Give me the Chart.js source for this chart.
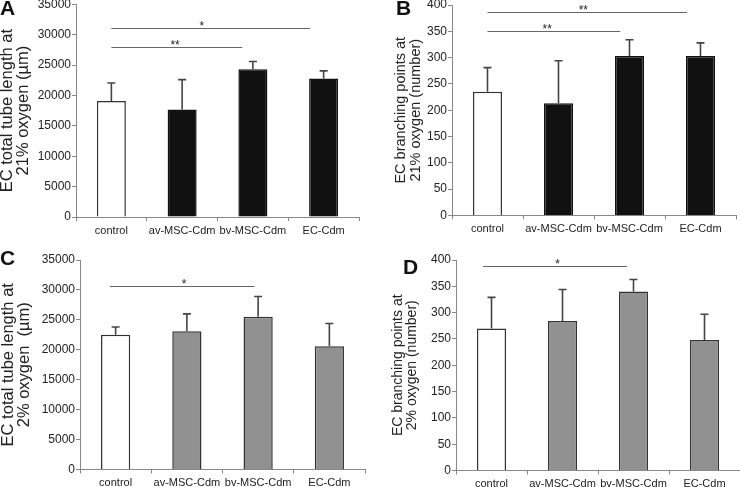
<!DOCTYPE html>
<html>
<head>
<meta charset="utf-8">
<script src="https://cdn.jsdelivr.net/npm/chart.js@4.4.1/dist/chart.umd.min.js"></script>
<style>
body { margin: 0; background: #fff; }
#wrap { position: relative; width: 740px; height: 487px; overflow: hidden; }
canvas { position: absolute; }
.lbl { position: absolute; font: bold 21px 'Liberation Sans', Arial, sans-serif; line-height: 21px; color: #111; }
</style>
</head>
<body>
<div id="wrap">
  <canvas id="panelA" width="370" height="245" style="left:0;top:0"></canvas>
  <canvas id="panelB" width="370" height="245" style="left:370px;top:0"></canvas>
  <canvas id="panelC" width="370" height="242" style="left:0;top:245px"></canvas>
  <canvas id="panelD" width="370" height="242" style="left:370px;top:245px"></canvas>
  <div class="lbl" style="left:0;top:-3px">A</div>
  <div class="lbl" style="left:396px;top:-3px">B</div>
  <div class="lbl" style="left:0;top:247px">C</div>
  <div class="lbl" style="left:403px;top:256px">D</div>
</div>
<script>
const categories = ['control', 'av-MSC-Cdm', 'bv-MSC-Cdm', 'EC-Cdm'];

// A: tube length, 21% oxygen
const lengthNormoxia = [19100, 17700, 24300, 22800];
const lengthNormoxiaSD = [2950, 4900, 1300, 1250];
// B: branching points, 21% oxygen
const branchNormoxia = [235, 213, 303, 303];
const branchNormoxiaSD = [46, 81, 31, 25];
// C: tube length, 2% oxygen
const lengthHypoxia = [22500, 23100, 25500, 20600];
const lengthHypoxiaSD = [1300, 2900, 3400, 3800];
// D: branching points, 2% oxygen
const branchHypoxia = [270, 284, 340, 248];
const branchHypoxiaSD = [59, 60, 23, 49];

const lengthTicks = { max: 35000, step: 5000 };
const branchTicks = { max: 400, step: 50 };

// significance: [label, level]
const sigA = [['*', 31150], ['**', 27900]];
const sigB = [['**', 387], ['**', 350]];
const sigC = [['*', 30600]];
const sigD = [['*', 388]];

Chart.defaults.font.family = "'Liberation Sans', Arial, sans-serif";
Chart.defaults.color = '#222';

const extras = {
    id: 'extras',
    afterDatasetsDraw(chart, args, opts) {
        const ctx = chart.ctx;
        const x = chart.scales.x;
        const y = chart.scales.y;
        const meta = chart.getDatasetMeta(0);
        ctx.save();
        // error bars (upper only)
        ctx.strokeStyle = '#444';
        ctx.lineWidth = 1.6;
        opts.means.forEach((m, i) => {
            const cx = meta.data[i].x;
            const y0 = y.getPixelForValue(m);
            const y1 = y.getPixelForValue(m + opts.sd[i]);
            ctx.beginPath();
            ctx.moveTo(cx, y0);
            ctx.lineTo(cx, y1);
            ctx.moveTo(cx - 4, y1);
            ctx.lineTo(cx + 4, y1);
            ctx.stroke();
        });
        // significance lines
        ctx.strokeStyle = '#666';
        ctx.lineWidth = 1;
        ctx.fillStyle = '#222';
        ctx.font = "12px 'Liberation Sans', Arial, sans-serif";
        ctx.textAlign = 'center';
        ctx.textBaseline = 'alphabetic';
        opts.sig.forEach((s, i) => {
            const g = opts.sigGeom[i];
            const py = Math.round(y.getPixelForValue(s[1])) + 0.5;
            ctx.beginPath();
            ctx.moveTo(x.getPixelForValue(g[0]), py);
            ctx.lineTo(x.getPixelForValue(g[1]), py);
            ctx.stroke();
            ctx.fillText(s[0], x.getPixelForValue(g[2]), py + 1);
        });
        ctx.restore();
    }
};

function makePanel(id, means, sd, fill, border, ticks, title, sig, lay) {
    const ctx = document.getElementById(id).getContext('2d');
    new Chart(ctx, {
        type: 'bar',
        data: {
            labels: categories,
            datasets: [{
                data: means,
                backgroundColor: fill,
                borderColor: border,
                borderWidth: 1.5,
                barPercentage: 0.41,
                categoryPercentage: 1
            }]
        },
        options: {
            responsive: false,
            animation: false,
            layout: { padding: lay.padding },
            plugins: {
                legend: { display: false },
                tooltip: { enabled: false },
                extras: { means: means, sd: sd, sig: sig, sigGeom: lay.sigGeom }
            },
            scales: {
                x: {
                    grid: { display: true, drawOnChartArea: false, drawTicks: true, tickLength: 4, color: '#888', offset: true },
                    border: { display: true, color: '#888' },
                    ticks: { font: { size: 11 }, color: '#222', padding: 3, maxRotation: 0, autoSkip: false },
                    afterFit(s) { s.height = lay.xHeight; s.paddingLeft = 0; s.paddingRight = 0; }
                },
                y: {
                    min: 0,
                    max: ticks.max,
                    grid: { display: true, drawOnChartArea: false, drawTicks: true, tickLength: 4, color: '#888' },
                    border: { display: true, color: '#888' },
                    ticks: { stepSize: ticks.step, font: { size: 12 }, color: '#222', padding: 1,
                             callback: v => String(v) },
                    title: {
                        display: true,
                        text: title,
                        color: '#222',
                        font: { size: lay.titleSize, lineHeight: lay.titleLH },
                        padding: { top: lay.titlePad, bottom: 0 }
                    },
                    afterFit(s) { s.width = lay.yWidth; s.paddingTop = 0; s.paddingBottom = 0; }
                }
            }
        },
        plugins: [extras]
    });
}

makePanel('panelA', lengthNormoxia, lengthNormoxiaSD,
    ['#ffffff', '#111111', '#111111', '#111111'], ['#333', '#111', '#111', '#111'],
    lengthTicks, ['EC total tube length at', '21% oxygen (\u00b5m)'], sigA,
    { padding: { left: 0, top: 4.3, right: 11, bottom: 0 }, yWidth: 76, xHeight: 28,
      titleSize: 16.5, titleLH: 0.95, titlePad: 0,
      sigGeom: [[0, 2.81, 1.28], [0, 1.85, 0.9]] });

makePanel('panelB', branchNormoxia, branchNormoxiaSD,
    ['#ffffff', '#111111', '#111111', '#111111'], ['#333', '#111', '#111', '#111'],
    branchTicks, ['EC branching points at', '21% oxygen (number)'], sigB,
    { padding: { left: 0, top: 5, right: 4, bottom: 0 }, yWidth: 82, xHeight: 29.6,
      titleSize: 14.5, titleLH: 1.0, titlePad: 24,
      sigGeom: [[0, 2.81, 1.35], [0, 1.87, 0.84]] });

makePanel('panelC', lengthHypoxia, lengthHypoxiaSD,
    ['#ffffff', '#919191', '#919191', '#919191'], ['#333', '#333', '#333', '#333'],
    lengthTicks, ['EC total tube length at', '2% oxygen  (\u00b5m)'], sigC,
    { padding: { left: 0, top: 15, right: 5, bottom: 0 }, yWidth: 80, xHeight: 17.5,
      titleSize: 16.5, titleLH: 1.0, titlePad: 0,
      sigGeom: [[-0.08, 1.95, 0.96]] });

makePanel('panelD', branchHypoxia, branchHypoxiaSD,
    ['#ffffff', '#919191', '#919191', '#919191'], ['#333', '#333', '#333', '#333'],
    branchTicks, ['EC branching points at', '2% oxygen (number)'], sigD,
    { padding: { left: 0, top: 15, right: 0, bottom: 0 }, yWidth: 86, xHeight: 16.5,
      titleSize: 14, titleLH: 1.05, titlePad: 20.5,
      sigGeom: [[-0.12, 1.91, 0.93]] });
</script>
</body>
</html>
